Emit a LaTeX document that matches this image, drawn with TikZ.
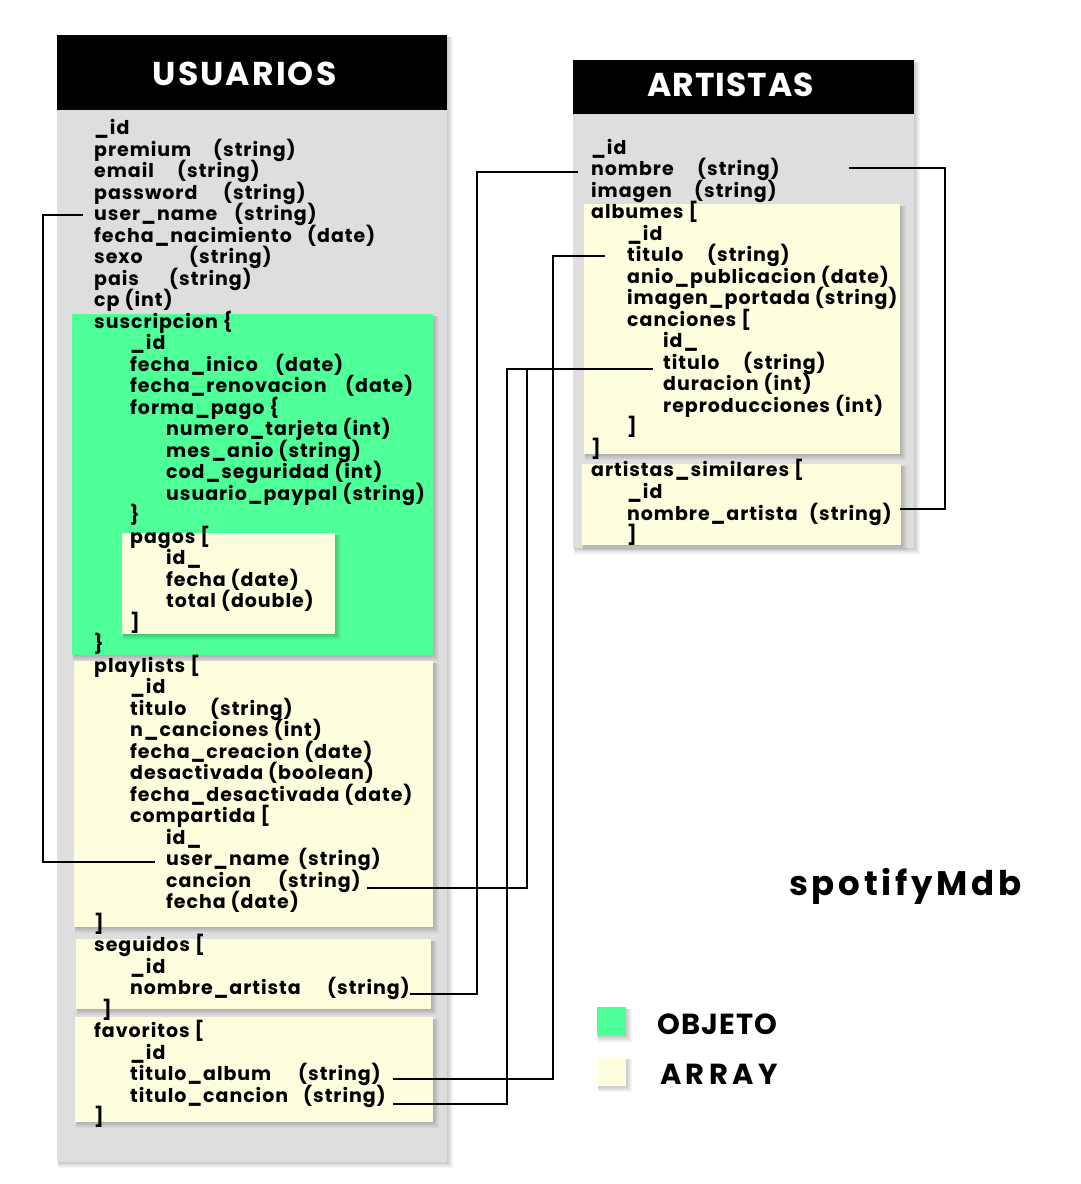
\documentclass[tikz,border=0pt]{standalone}
\usepackage{fontspec}
\setmainfont{Poppins}
\newfontfamily\fieldfont{Poppins}[LetterSpace=5]
\definecolor{panelgray}{HTML}{DEDEDE}
\definecolor{objgreen}{HTML}{4FFF97}
\definecolor{arrcream}{HTML}{FEFEDF}
\newcommand\softshade[4]{%
  \foreach \s in {1,...,6}{\fill[black,opacity=0.035] ({#1+1},{#2+2}) rectangle ({#3+\s},{#4+\s});}}
\newcommand\ufield[3]{\node[fld] (u#1) at ({94+36*#2},{134.5+21.5*#1}) {#3};}
\newcommand\utype[3]{\node[fld] (ut#1) at (#2,{134.5+21.5*#1}) {#3};}
\newcommand\afield[3]{\node[fld] (a#1) at ({591+36*#2},{154+21.53*#1}) {#3};}
\newcommand\atype[3]{\node[fld] (at#1) at (#2,{154+21.53*#1}) {#3};}
\tikzset{
  fld/.style={anchor=base west, inner sep=0pt, font=\fieldfont\bfseries\fontsize{19}{19}\selectfont},
  ttl/.style={anchor=base, inner sep=0pt, text=white, font=\bfseries\fontsize{33}{33}\selectfont},
  bigtxt/.style={anchor=base west, inner sep=0pt, font=\bfseries\fontsize{34}{34}\selectfont\addfontfeatures{LetterSpace=11}},
  legtxt/.style={anchor=base west, inner sep=0pt, font=\bfseries\fontsize{29}{29}\selectfont},
  panel/.style={fill=panelgray},
  hdr/.style={fill=black},
  obj/.style={fill=objgreen},
  arr/.style={fill=arrcream},
  conn/.style={draw=black, line width=1.2pt},
}
\begin{document}
\begin{tikzpicture}[x=1pt,y=-1pt]
\useasboundingbox (0,0) rectangle (1080,1184);
\fill[white] (0,0) rectangle (1080,1184);
% ---------- USUARIOS panel
\softshade{57}{35}{447}{1162}
\path[panel] (57,110) rectangle (447,1162);
\path[hdr] (57,35) rectangle (447,110);
\node[ttl, font=\bfseries\fontsize{33}{33}\selectfont\addfontfeatures{LetterSpace=6.5}] (tusu) at (244.5,85) {USUARIOS};
\softshade{72}{314}{433}{655}
\path[obj] (72,314) rectangle (433,655);
\softshade{122}{533}{335}{634}
\path[arr] (122,533) rectangle (335,634);
\softshade{74}{661}{433}{927}
\path[arr] (74,661) rectangle (433,927);
\softshade{76}{939}{431}{1009}
\path[arr] (76,939) rectangle (431,1009);
\softshade{75}{1017}{433}{1122}
\path[arr] (75,1017) rectangle (433,1122);
% fields
\ufield{0}{0}{\_id}
\ufield{1}{0}{premium}\utype{1}{213}{(string)}
\ufield{2}{0}{email}\utype{2}{177}{(string)}
\ufield{3}{0}{password}\utype{3}{223}{(string)}
\ufield{4}{0}{user\_name}\utype{4}{234}{(string)}
\ufield{5}{0}{fecha\_nacimiento}\utype{5}{307}{(date)}
\ufield{6}{0}{sexo}\utype{6}{189}{(string)}
\ufield{7}{0}{pais}\utype{7}{169}{(string)}
\ufield{8}{0}{cp (int)}
\ufield{9}{0}{suscripcion \{}
\ufield{10}{1}{\_id}
\ufield{11}{1}{fecha\_inico}\utype{11}{275}{(date)}
\ufield{12}{1}{fecha\_renovacion}\utype{12}{345}{(date)}
\ufield{13}{1}{forma\_pago \{}
\ufield{14}{2}{numero\_tarjeta (int)}
\ufield{15}{2}{mes\_anio (string)}
\ufield{16}{2}{cod\_seguridad (int)}
\ufield{17}{2}{usuario\_paypal (string)}
\ufield{18}{1}{\}}
\ufield{19}{1}{pagos [}
\ufield{20}{2}{id\_}
\ufield{21}{2}{fecha (date)}
\ufield{22}{2}{total (double)}
\ufield{23}{1}{]}
\ufield{24}{0}{\}}
\ufield{25}{0}{playlists [}
\ufield{26}{1}{\_id}
\ufield{27}{1}{titulo}\utype{27}{210}{(string)}
\ufield{28}{1}{n\_canciones (int)}
\ufield{29}{1}{fecha\_creacion (date)}
\ufield{30}{1}{desactivada (boolean)}
\ufield{31}{1}{fecha\_desactivada (date)}
\ufield{32}{1}{compartida [}
\ufield{33}{2}{id\_}
\ufield{34}{2}{user\_name}\utype{34}{298}{(string)}
\ufield{35}{2}{cancion}\utype{35}{278}{(string)}
\ufield{36}{2}{fecha (date)}
\ufield{37}{0}{]}
\ufield{38}{0}{seguidos [}
\ufield{39}{1}{\_id}
\ufield{40}{1}{nombre\_artista}\utype{40}{327}{(string)}
\node[fld] (u41) at (102,{134.5+21.5*41}) {]};
\ufield{42}{0}{favoritos [}
\ufield{43}{1}{\_id}
\ufield{44}{1}{titulo\_album}\utype{44}{298}{(string)}
\ufield{45}{1}{titulo\_cancion}\utype{45}{303}{(string)}
\ufield{46}{0}{]}
% ---------- ARTISTAS panel
\softshade{573}{60}{914}{548}
\path[panel] (573,114) rectangle (914,548);
\path[hdr] (573,60) rectangle (914,114);
\node[ttl, font=\bfseries\fontsize{33}{33}\selectfont\addfontfeatures{LetterSpace=3}] (tart) at (730.5,96) {ARTISTAS};
\softshade{584}{204}{900}{454}
\path[arr] (584,204) rectangle (900,454);
\softshade{582}{464}{901}{545}
\path[arr] (582,464) rectangle (901,545);
\afield{0}{0}{\_id}
\afield{1}{0}{nombre}\atype{1}{697}{(string)}
\afield{2}{0}{imagen}\atype{2}{694}{(string)}
\afield{3}{0}{albumes [}
\afield{4}{1}{\_id}
\afield{5}{1}{titulo}\atype{5}{707}{(string)}
\afield{6}{1}{anio\_publicacion (date)}
\afield{7}{1}{imagen\_portada (string)}
\afield{8}{1}{canciones [}
\afield{9}{2}{id\_}
\afield{10}{2}{titulo}\atype{10}{743}{(string)}
\afield{11}{2}{duracion (int)}
\afield{12}{2}{reproducciones (int)}
\afield{13}{1}{]}
\afield{14}{0}{]}
\afield{15}{0}{artistas\_similares [}
\afield{16}{1}{\_id}
\afield{17}{1}{nombre\_artista}\atype{17}{809}{(string)}
\afield{18}{1}{]}
% ---------- title and legend
\node[bigtxt] (dbname) at (789,895) {spotifyMdb};
\softshade{597}{1007}{626}{1036}
\path[obj] (597,1007) rectangle (626,1036);
\softshade{597}{1057}{626}{1086}
\path[arr] (597,1057) rectangle (626,1086);
\node[legtxt, font=\bfseries\fontsize{29}{29}\selectfont\addfontfeatures{LetterSpace=4}] (lobj) at (657,1034) {OBJETO};
\node[legtxt, font=\bfseries\fontsize{29}{29}\selectfont\addfontfeatures{LetterSpace=15}] (larr) at (660,1084) {ARRAY};
% ---------- connectors
\coordinate (c1a) at (83,215);   \coordinate (c1b) at (155,862);  \coordinate (v1) at (43,0);
\coordinate (c2a) at (578,172);  \coordinate (c2b) at (410,994);  \coordinate (v2) at (477,0);
\coordinate (c3a) at (849,168);  \coordinate (c3b) at (900,509);  \coordinate (v3) at (945,0);
\coordinate (c4a) at (605,256);  \coordinate (c4b) at (393,1079); \coordinate (v4) at (553,0);
\coordinate (c5a) at (653,369);  \coordinate (c5b) at (393,1104); \coordinate (v5) at (507,0);
\coordinate (c6b) at (367,888);  \coordinate (v6) at (527,0);
\draw[conn] (c1a) -- (c1a -| v1) |- (c1b);
\draw[conn] (c2a) -- (c2a -| v2) |- (c2b);
\draw[conn] (c3a) -- (c3a -| v3) |- (c3b);
\draw[conn] (c4a) -- (c4a -| v4) |- (c4b);
\draw[conn] (c5a) -- (c5a -| v5) |- (c5b);
\draw[conn] (c5a -| v6) |- (c6b);
\end{tikzpicture}
\end{document}
